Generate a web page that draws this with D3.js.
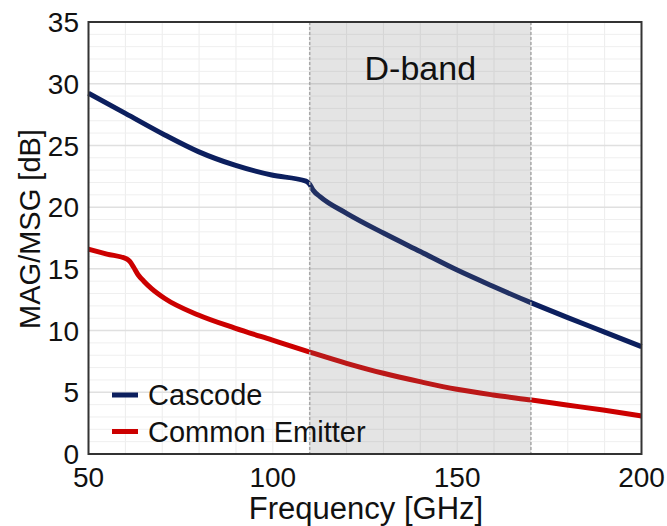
<!DOCTYPE html>
<html>
<head>
<meta charset="utf-8">
<script src="https://cdn.jsdelivr.net/npm/d3@7"></script>
<style>
  body { margin: 0; background: #fff; }
  text { font-family: "Liberation Sans", Arial, sans-serif; fill: #111; }
</style>
</head>
<body>
<script>
const w = 667;
const h = 526;

// data
const cascodeFreq = [50, 60, 70.7, 79.8, 89.7, 99.7, 109, 110, 111, 112.8, 120, 130, 140, 150, 160, 170, 180, 190, 200];
const cascodeGain = [29.23, 27.6, 25.85, 24.5, 23.4, 22.6, 22.1, 21.85, 21.35, 20.85, 19.5, 17.9, 16.4, 14.9, 13.55, 12.26, 11.05, 9.88, 8.7];
const ceFreq = [50, 55, 60.4, 61.2, 62.2, 63.5, 65, 67.1, 70.7, 79.8, 89.7, 99.7, 109.6, 120, 130, 139.9, 149.9, 159.8, 170.2, 179.7, 189.6, 200];
const ceGain = [16.6, 16.2, 15.8, 15.6, 15.15, 14.5, 14.0, 13.4, 12.6, 11.26, 10.2, 9.24, 8.3, 7.35, 6.54, 5.86, 5.24, 4.78, 4.37, 3.97, 3.56, 3.08];
const xTicks = [50, 100, 150, 200];
const yTicks = [0, 5, 10, 15, 20, 25, 30, 35];
const band = [110, 170];
const seriesNames = ["Cascode", "Common Emitter"];
const seriesColors = ["#0c1f5e", "#cc0000"];

const plotL = 88.5, plotR = 641.5, plotT = 22, plotB = 454;

const x = d3.scaleLinear().domain([50, 200]).range([plotL, plotR]);
const y = d3.scaleLinear().domain([0, 35]).range([plotB, plotT]);

const svg = d3.select("body").append("svg").attr("width", w).attr("height", h);

// grid
svg.append("g")
  .selectAll("line")
  .data(d3.range(60, 200, 10))
  .join("line")
  .attr("x1", (d) => x(d)).attr("x2", (d) => x(d))
  .attr("y1", plotT).attr("y2", plotB)
  .attr("stroke", "#ececec").attr("stroke-width", 1);

svg.append("g")
  .selectAll("line")
  .data(d3.range(1, 35, 1))
  .join("line")
  .attr("x1", plotL).attr("x2", plotR)
  .attr("y1", (d) => y(d)).attr("y2", (d) => y(d))
  .attr("stroke", (d) => (d % 5 === 0 ? "#e0e0e0" : "#efefef"))
  .attr("stroke-width", (d) => (d % 5 === 0 ? 1.5 : 1));

const line = d3.line().x((d) => x(d[0])).y((d) => y(d[1])).curve(d3.curveMonotoneX);

const series = [
  d3.zip(cascodeFreq, cascodeGain),
  d3.zip(ceFreq, ceGain),
];

svg.append("g")
  .selectAll("path")
  .data(series)
  .join("path")
  .attr("d", line)
  .attr("fill", "none")
  .attr("stroke", (d, i) => seriesColors[i])
  .attr("stroke-width", 5)
  .attr("stroke-linejoin", "round");

// shaded D-band on top of the curves
svg.append("rect")
  .attr("x", x(band[0]))
  .attr("y", plotT)
  .attr("width", x(band[1]) - x(band[0]))
  .attr("height", plotB - plotT)
  .attr("fill", "rgb(120,120,120)")
  .attr("fill-opacity", 0.2);

svg.append("g")
  .selectAll("line")
  .data(band)
  .join("line")
  .attr("x1", (d) => x(d)).attr("x2", (d) => x(d))
  .attr("y1", plotT).attr("y2", plotB)
  .attr("stroke", "#a8a8a8").attr("stroke-width", 1.5)
  .attr("stroke-dasharray", "3,2");

svg.append("text")
  .attr("x", (x(band[0]) + x(band[1])) / 2)
  .attr("y", 80)
  .attr("text-anchor", "middle")
  .attr("font-size", 34)
  .text("D-band");

// frame
svg.append("rect")
  .attr("x", plotL).attr("y", plotT)
  .attr("width", plotR - plotL).attr("height", plotB - plotT)
  .attr("fill", "none").attr("stroke", "#333").attr("stroke-width", 2);

// tick labels
svg.append("g")
  .selectAll("text")
  .data(yTicks)
  .join("text")
  .attr("x", 79)
  .attr("y", (d) => y(d))
  .attr("dy", "0.36em")
  .attr("text-anchor", "end")
  .attr("font-size", 28)
  .text((d) => d);

svg.append("g")
  .selectAll("text")
  .data(xTicks)
  .join("text")
  .attr("x", (d) => x(d))
  .attr("y", 487)
  .attr("text-anchor", "middle")
  .attr("font-size", 28)
  .text((d) => d);

svg.append("text")
  .attr("x", 366)
  .attr("y", 519)
  .attr("text-anchor", "middle")
  .attr("font-size", 31)
  .text("Frequency [GHz]");

svg.append("text")
  .attr("transform", "translate(40,229) rotate(-90)")
  .attr("text-anchor", "middle")
  .attr("font-size", 29)
  .text("MAG/MSG [dB]");

// legend
const legend = svg.append("g")
  .selectAll("g")
  .data(seriesNames)
  .join("g")
  .attr("transform", (d, i) => `translate(112,${395 + i * 36.5})`);

legend.append("line")
  .attr("x1", 0).attr("x2", 26)
  .attr("stroke", (d, i) => seriesColors[i])
  .attr("stroke-width", 5);

legend.append("text")
  .attr("x", 36)
  .attr("dy", "0.36em")
  .attr("font-size", 29)
  .text((d) => d);
</script>
</body>
</html>
